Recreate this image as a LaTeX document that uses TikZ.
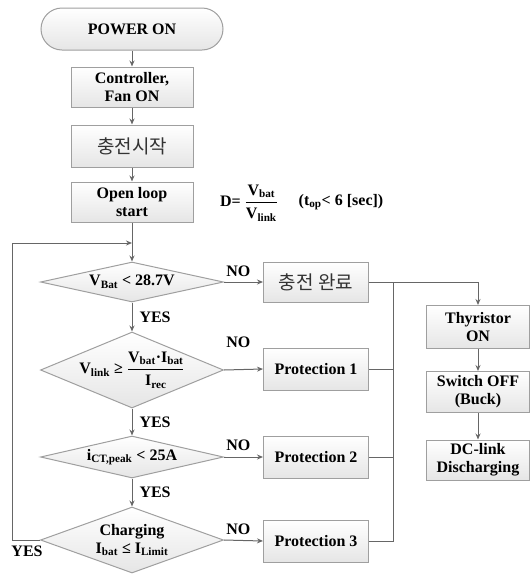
\documentclass[tikz,border=0pt]{standalone}
\usepackage{amsmath}
\usepackage{fontspec}
\setmainfont{Liberation Serif}
\newfontfamily\kr{Noto Sans CJK KR}
\usetikzlibrary{shapes.geometric,arrows.meta,positioning}

\begin{document}
\begin{tikzpicture}[x=1pt, y=-1pt, >={Stealth[length=6pt,width=5pt]},
        main/.style = {draw=gray!75, line width=1pt, top color=white, bottom color=gray!20,
            minimum width=122pt, minimum height=40pt, align=center, inner sep=1pt,
            font=\fontsize{16}{18}\selectfont\bfseries},
        dec/.style = {diamond, draw=gray!75, line width=1pt, top color=white, bottom color=gray!20,
            minimum width=183pt, minimum height=40pt, inner sep=0pt},
        lab/.style = {font=\fontsize{16}{18}\selectfont\bfseries, inner sep=1pt, align=center},
        krtxt/.style = {font=\kr\fontsize{19}{20}\selectfont, text=black!80},
        line/.style = {draw=black!60, line width=1pt}]

    \useasboundingbox (0,0) rectangle (530,574);

    % left column
    \node[main, rounded corners=21pt, minimum width=182pt, minimum height=42pt] (1) at (132,29) {POWER ON};
    \node[main] (2) at (132,87) {Controller,\\Fan ON};
    \node[main, krtxt, minimum height=42pt] (3) at (132,146) {충전시작};
    \node[main] (4) at (132,202) {Open loop\\start};
    \node[lab] (f) at (249,203) {D= $\dfrac{\textbf{V}_{\textbf{bat}}}{\textbf{V}_{\textbf{link}}}$};
    \node[lab] (t) at (341,202) {(t$_{\textbf{op}}$< 6 [sec])};

    \node[dec] (5) at (132,282) {};
    \node[lab] (5t) at (5) {V$_{\textbf{Bat}}$ < 28.7V};
    \node[dec, minimum height=76pt] (6) at (132,370) {};
    \node[lab] (6t) at (6) {V$_{\textbf{link}}$ ≥ $\dfrac{\textbf{V}_{\textbf{bat}}\textbf{·I}_{\textbf{bat}}}{\textbf{I}_{\textbf{rec}}}$};
    \node[dec, minimum height=42pt] (7) at (132,457) {};
    \node[lab] (7t) at (7) {i$_{\textbf{CT,peak}}$ < 25A};
    \node[dec, minimum height=66pt] (8) at (132,540) {};
    \node[lab] (8t) at (8) {Charging\\I$_{\textbf{bat}}$ ≤ I$_{\textbf{Limit}}$};

    % right columns
    \node[main, krtxt, minimum width=105pt] (9) at (316,282) {충전 완료};
    \node[main, minimum width=105pt, minimum height=42pt] (10) at (316,369) {Protection 1};
    \node[main, minimum width=105pt, minimum height=42pt] (11) at (316,457) {Protection 2};
    \node[main, minimum width=105pt, minimum height=42pt] (12) at (316,541) {Protection 3};
    \node[main, minimum width=103pt, minimum height=43pt] (13) at (478,327) {Thyristor\\ON};
    \node[main, minimum width=103pt, minimum height=41pt] (14) at (478,392) {Switch OFF\\(Buck)};
    \node[main, minimum width=103pt] (15) at (478,460) {DC-link\\Discharging};

    \coordinate (j) at (132,243);
    \coordinate (bus) at (393,282);

    \draw[line, ->] (1) -- (2);
    \draw[line, ->] (2) -- (3);
    \draw[line, ->] (3) -- (4);
    \draw[line, ->] (4) -- (5);
    \draw[line, ->] (5) -- (6) node[lab, midway, right=6pt] {YES};
    \draw[line, ->] (6) -- (7) node[lab, midway, right=6pt] {YES};
    \draw[line, ->] (7) -- (8) node[lab, midway, right=6pt] {YES};
    \draw[line, ->] (8.west) -- ++(-28,0) node[lab, below right=4pt and -2pt] {YES} |- (j);

    \draw[line, ->] (5.east) -- (9.west) node[lab, pos=0.37, above=4pt] {NO};
    \draw[line, ->] (6.east) -- (10.west) node[lab, pos=0.37, above=20pt] {NO};
    \draw[line, ->] (7.east) -- (11.west) node[lab, pos=0.37, above=5pt] {NO};
    \draw[line, ->] (8.east) -- (12.west) node[lab, pos=0.37, above=4pt] {NO};

    \draw[line, ->] (9) -| (13);
    \draw[line] (10) -- (10 -| bus);
    \draw[line] (11) -- (11 -| bus);
    \draw[line] (12) -| (bus);
    \draw[line, ->] (13) -- (14);
    \draw[line, ->] (14) -- (15);
\end{tikzpicture}
\end{document}
